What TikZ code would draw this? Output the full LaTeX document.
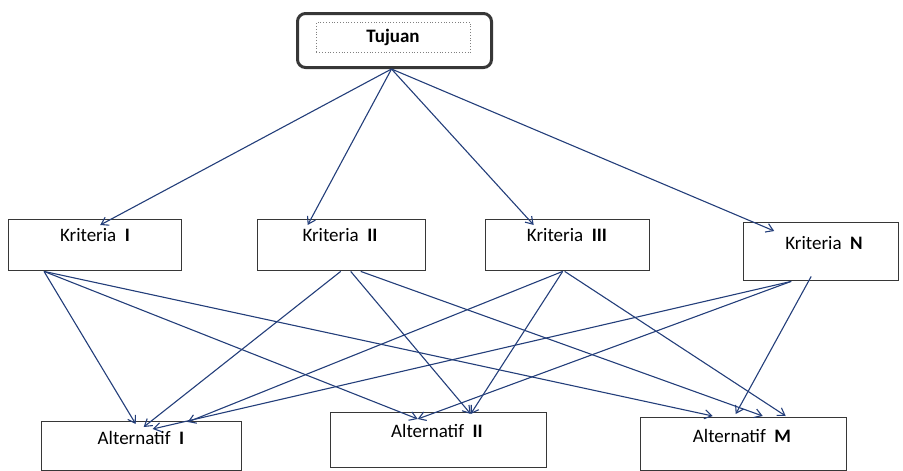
\documentclass[tikz,border=0pt]{standalone}
\usepackage{fontspec}
\setmainfont{Carlito}
\usetikzlibrary{arrows.meta}

\definecolor{garisbiru}{RGB}{35,62,122}
\definecolor{garistepi}{RGB}{55,55,55}

\tikzset{
  kotak/.style={draw=garistepi, line width=1.4pt, anchor=north west, inner sep=0pt},
  teks/.style={inner sep=0.75pt, font=\fontsize{19}{22}\selectfont},
  panah/.style={draw=garisbiru, line width=1.1pt, -{Straight Barb[length=7pt,width=9pt]}},
}

\begin{document}
\begin{tikzpicture}[x=1pt,y=1pt,yscale=-1,xscale=1]
\useasboundingbox (0,0) rectangle (903,471);

% Tujuan
\node[kotak, line width=3pt, rounded corners=8pt, minimum width=194, minimum height=54] (tujuan) at (296,12) {};
\node[kotak, draw=gray, line width=0.8pt, dotted, minimum width=154, minimum height=30] (tujuandalam) at (316,22) {};
\node[teks] (ttujuan) at (393,37) {\textbf{Tujuan}};

% Kriteria
\node[kotak, minimum width=173, minimum height=51] (k1) at (8,219) {};
\node[kotak, minimum width=168, minimum height=51] (k2) at (257,219) {};
\node[kotak, minimum width=164, minimum height=51] (k3) at (485,219) {};
\node[kotak, minimum width=155, minimum height=58] (kn) at (743,222) {};
\node[teks] (tk1) at (95,235) {Kriteria\ \ \textbf{I}};
\node[teks] (tk2) at (340,235) {Kriteria\ \ \textbf{II}};
\node[teks] (tk3) at (567,235) {Kriteria\ \ \textbf{III}};
\node[teks] (tkn) at (824,243) {Kriteria\ \ \textbf{N}};

% Alternatif
\node[kotak, minimum width=200, minimum height=49] (a1) at (41,421) {};
\node[kotak, minimum width=216, minimum height=55] (a2) at (330,412) {};
\node[kotak, minimum width=206, minimum height=53] (am) at (640,417) {};
\node[teks] (ta1) at (141,438) {Alternatif\ \ \textbf{I}};
\node[teks] (ta2) at (437,431) {Alternatif\ \ \textbf{II}};
\node[teks] (tam) at (742,436) {Alternatif\ \ \textbf{M}};

% tujuan ke kriteria
\draw[panah] ([xshift=-3]tujuan.south) -- ([xshift=5,yshift=6]k1.north);
\draw[panah] ([xshift=-3]tujuan.south) -- ([xshift=-34,yshift=6]k2.north);
\draw[panah] ([xshift=-3]tujuan.south) -- ([xshift=-34,yshift=6]k3.north);
\draw[panah] ([xshift=-3]tujuan.south) -- ([xshift=-47,yshift=9]kn.north);

% kriteria ke alternatif
\draw[panah] ([xshift=36]k1.south west) -- ([xshift=-6,yshift=3]a1.north);
\draw[panah] ([xshift=36]k1.south west) -- ([xshift=-21,yshift=7]a2.north);
\draw[panah] ([xshift=36]k1.south west) -- ([xshift=-31,yshift=-1]am.north);

\draw[panah] ([xshift=-1]k2.south) -- ([xshift=2,yshift=6]a1.north);
\draw[panah] ([xshift=9]k2.south) -- ([xshift=32,yshift=2]a2.north);
\draw[panah] ([xshift=19]k2.south) -- ([xshift=19,yshift=-1]am.north);

\draw[panah] ([xshift=-5]k3.south) -- ([xshift=46,yshift=1]a1.north);
\draw[panah] ([xshift=-5]k3.south) -- ([xshift=32,yshift=2]a2.north);
\draw[panah] ([xshift=-3]k3.south) -- ([xshift=42,yshift=-1]am.north);

\draw[panah] ([xshift=-30]kn.south) -- ([xshift=11,yshift=8]a1.north);
\draw[panah] ([xshift=-30]kn.south) -- ([xshift=-21,yshift=7]a2.north);
\draw[panah] ([xshift=-10,yshift=-5]kn.south) -- ([xshift=-8,yshift=-3]am.north);

\end{tikzpicture}
\end{document}
